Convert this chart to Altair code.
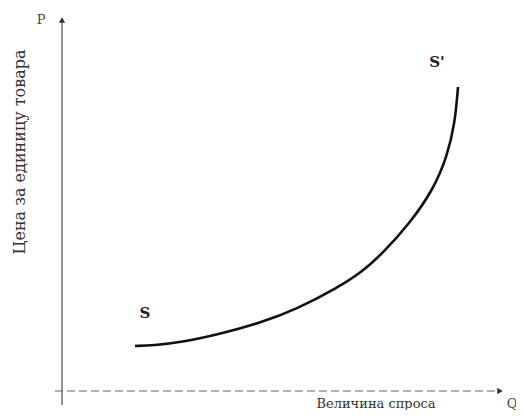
import altair as alt
import pandas as pd

# Supply curve S-S' (Q = quantity, P = price)
curve_q = [73, 91, 121, 158, 198, 235, 275, 300, 321, 348, 371, 385, 393, 396]
curve_p = [45, 45.5, 49, 57, 68, 82, 103, 119, 138, 168, 201, 234, 268, 304]

# Axis extents
y_axis_q = [0, 0]
y_axis_p = [-14, 371]
x_axis_q = [-7, 438]
x_axis_p = [0, 0]

# Labels
curve_labels = ["S", "S'"]
curve_label_q = [83, 375]
curve_label_p = [78, 329]
axis_letters = ["P", "Q"]
axis_letter_q = [-21, 450]
axis_letter_p = [371, -13]
x_title = "Величина спроса"
y_title = "Цена за единицу товара"

xs = alt.Scale(domain=[-54, 454], nice=False, zero=False)
ys = alt.Scale(domain=[-19, 383], nice=False, zero=False)
X = lambda: alt.X("q:Q", scale=xs, axis=None)
Y = lambda: alt.Y("p:Q", scale=ys, axis=None)

curve_df = pd.DataFrame({"q": curve_q, "p": curve_p, "o": range(len(curve_q))})
curve = alt.Chart(curve_df).mark_line(color="#111", strokeWidth=2.6, interpolate="basis").encode(
    x=X(), y=Y(), order="o:Q")

yaxis = alt.Chart(pd.DataFrame({"q": y_axis_q, "p": y_axis_p})).mark_line(
    color="#555", strokeWidth=1.3).encode(x=X(), y=Y())
xaxis = alt.Chart(pd.DataFrame({"q": x_axis_q, "p": x_axis_p})).mark_line(
    color="#666", strokeWidth=1.2, strokeDash=[8, 4]).encode(x=X(), y=Y())

arrows = alt.Chart(pd.DataFrame({"q": [y_axis_q[1], x_axis_q[1]],
                                 "p": [y_axis_p[1], x_axis_p[1]],
                                 "s": ["triangle-up", "triangle-right"]})).mark_point(
    filled=True, color="#333", size=40, opacity=1).encode(
    x=X(), y=Y(), shape=alt.Shape("s:N", scale=None))

slabels = alt.Chart(pd.DataFrame({"q": curve_label_q, "p": curve_label_p, "t": curve_labels})).mark_text(
    font="DejaVu Serif", fontSize=15, fontWeight="bold", color="#222").encode(x=X(), y=Y(), text="t:N")

letters = alt.Chart(pd.DataFrame({"q": axis_letter_q, "p": axis_letter_p, "t": axis_letters})).mark_text(
    font="DejaVu Serif", fontSize=13, color="#444").encode(x=X(), y=Y(), text="t:N")

xt = alt.Chart(pd.DataFrame({"q": [314], "p": [-13], "t": [x_title]})).mark_text(
    font="DejaVu Serif", fontSize=13, color="#333").encode(x=X(), y=Y(), text="t:N")

yt = alt.Chart(pd.DataFrame({"q": [-42], "p": [239], "t": [y_title]})).mark_text(
    font="DejaVu Serif", fontSize=16, color="#333", angle=270).encode(x=X(), y=Y(), text="t:N")

chart = alt.layer(yaxis, xaxis, arrows, curve, slabels, letters, xt, yt).properties(
    width=508, height=402, autosize=alt.AutoSizeParams(type="none"), padding=0,
    background="white"
).configure_view(stroke=None)

chart.save("out.html", embed_options={"renderer": "svg", "actions": False})
